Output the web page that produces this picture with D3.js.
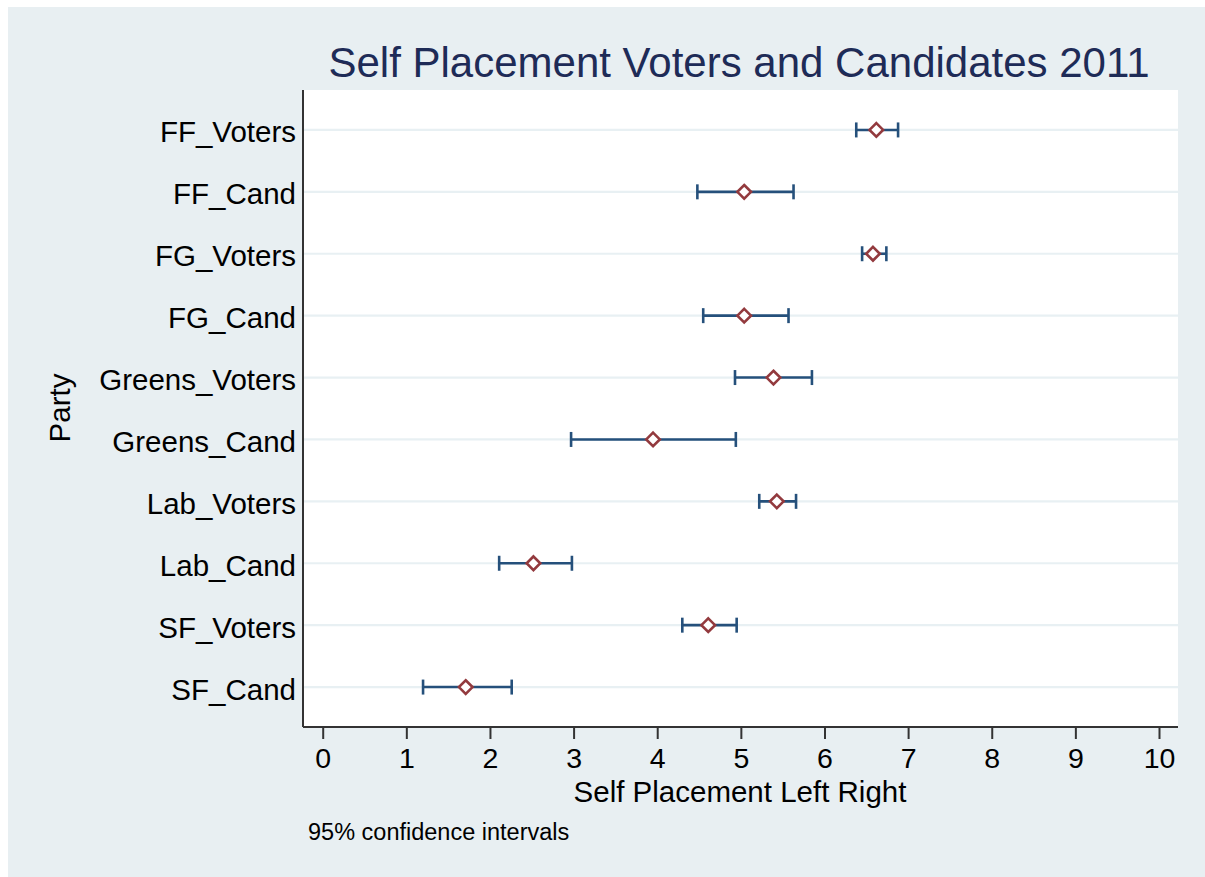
<!DOCTYPE html>
<html>
<head>
<meta charset="utf-8">
<script src="https://cdn.jsdelivr.net/npm/d3@7"></script>
<style>
  html, body { margin: 0; padding: 0; background: #ffffff; }
  svg { display: block; }
  text { font-family: "Liberation Sans", Arial, Helvetica, sans-serif; }
</style>
</head>
<body>
<div id="chart"></div>
<script>
// ---- data ----
const categories = ["FF_Voters", "FF_Cand", "FG_Voters", "FG_Cand", "Greens_Voters",
                    "Greens_Cand", "Lab_Voters", "Lab_Cand", "SF_Voters", "SF_Cand"];
const means = [6.62, 5.04, 6.58, 5.04, 5.39, 3.95, 5.43, 2.52, 4.61, 1.71];
const lower = [6.38, 4.48, 6.45, 4.55, 4.93, 2.97, 5.22, 2.11, 4.30, 1.20];
const upper = [6.88, 5.63, 6.74, 5.57, 5.85, 4.94, 5.66, 2.98, 4.95, 2.26];
const xTicks = [0, 1, 2, 3, 4, 5, 6, 7, 8, 9, 10];
const titleText = "Self Placement Voters and Candidates 2011";
const xTitle = "Self Placement Left Right";
const yTitle = "Party";
const noteText = "95% confidence intervals";

const W = 1205, H = 877;
const plot = { left: 303, right: 1178, top: 90, bottom: 727 };

const svg = d3.select("#chart").append("svg").attr("width", W).attr("height", H);

// backgrounds
svg.append("rect").attr("x", 0).attr("y", 0).attr("width", W).attr("height", H).attr("fill", "#ffffff");
svg.append("rect").attr("x", 8).attr("y", 7).attr("width", W - 8).attr("height", H - 7).attr("fill", "#e8eff2");
svg.append("rect").attr("x", plot.left).attr("y", plot.top)
  .attr("width", plot.right - plot.left).attr("height", plot.bottom - plot.top).attr("fill", "#ffffff");

const x = d3.scaleLinear().domain([0, 10]).range([322.7, 1159]);
const y = d3.scalePoint().domain(categories).range([plot.top, plot.bottom]).padding(0.645);

// gridlines
svg.append("g").selectAll("line").data(categories).join("line")
  .attr("x1", plot.left).attr("x2", plot.right)
  .attr("y1", d => y(d)).attr("y2", d => y(d))
  .attr("stroke", "#e8f0f3").attr("stroke-width", 2.2);

// x axis
const xAxis = d3.axisBottom(x).tickValues(xTicks).tickSize(12).tickPadding(4).tickFormat(d3.format("d"));
const gx = svg.append("g").attr("transform", `translate(0,${plot.bottom})`).call(xAxis);
gx.select(".domain").attr("d", `M${plot.left},0H${plot.right}`).attr("stroke", "#333").attr("stroke-width", 2);
gx.selectAll(".tick line").attr("stroke", "#333").attr("stroke-width", 2);
gx.selectAll(".tick text").attr("font-size", 28.5).attr("fill", "#000")
  .attr("font-family", "'Liberation Sans', Arial, sans-serif")
  .attr("dy", null).attr("y", 41);

// y axis
const yAxis = d3.axisLeft(y).tickSize(0).tickPadding(7);
const gy = svg.append("g").attr("transform", `translate(${plot.left},0)`).call(yAxis);
gy.select(".domain").attr("d", `M0,${plot.top}V${plot.bottom}`).attr("stroke", "#333").attr("stroke-width", 2);
gy.selectAll(".tick text").attr("font-size", 29.5).attr("fill", "#000")
  .attr("font-family", "'Liberation Sans', Arial, sans-serif")
  .attr("dy", null).attr("y", 12);

// error bars
const rows = categories.map((c, i) => ({ c, m: means[i], lo: lower[i], hi: upper[i] }));
const barColor = "#25507b";
const cap = 7.5;
const gb = svg.append("g");
gb.selectAll("line.span").data(rows).join("line").attr("class", "span")
  .attr("x1", d => x(d.lo)).attr("x2", d => x(d.hi))
  .attr("y1", d => y(d.c)).attr("y2", d => y(d.c))
  .attr("stroke", barColor).attr("stroke-width", 2.6);
gb.selectAll("line.capl").data(rows).join("line").attr("class", "capl")
  .attr("x1", d => x(d.lo)).attr("x2", d => x(d.lo))
  .attr("y1", d => y(d.c) - cap).attr("y2", d => y(d.c) + cap)
  .attr("stroke", barColor).attr("stroke-width", 2.6);
gb.selectAll("line.caph").data(rows).join("line").attr("class", "caph")
  .attr("x1", d => x(d.hi)).attr("x2", d => x(d.hi))
  .attr("y1", d => y(d.c) - cap).attr("y2", d => y(d.c) + cap)
  .attr("stroke", barColor).attr("stroke-width", 2.6);

// diamond markers
const r = 6.8;
svg.append("g").selectAll("path").data(rows).join("path")
  .attr("transform", d => `translate(${x(d.m)},${y(d.c)})`)
  .attr("d", `M0,${-r}L${r},0L0,${r}L${-r},0Z`)
  .attr("fill", "#ffffff").attr("stroke", "#933a3e").attr("stroke-width", 2.6);

// titles
svg.append("text").attr("x", 739).attr("y", 77).attr("text-anchor", "middle")
  .attr("font-size", 42).attr("fill", "#1e2b57").text(titleText);
svg.append("text").attr("x", 740).attr("y", 802).attr("text-anchor", "middle")
  .attr("font-size", 29.5).attr("fill", "#000").text(xTitle);
svg.append("text").attr("transform", "translate(70,408) rotate(-90)").attr("text-anchor", "middle")
  .attr("font-size", 29.5).attr("fill", "#000").text(yTitle);
svg.append("text").attr("x", 308).attr("y", 840)
  .attr("font-size", 23.5).attr("fill", "#000").text(noteText);
</script>
</body>
</html>
